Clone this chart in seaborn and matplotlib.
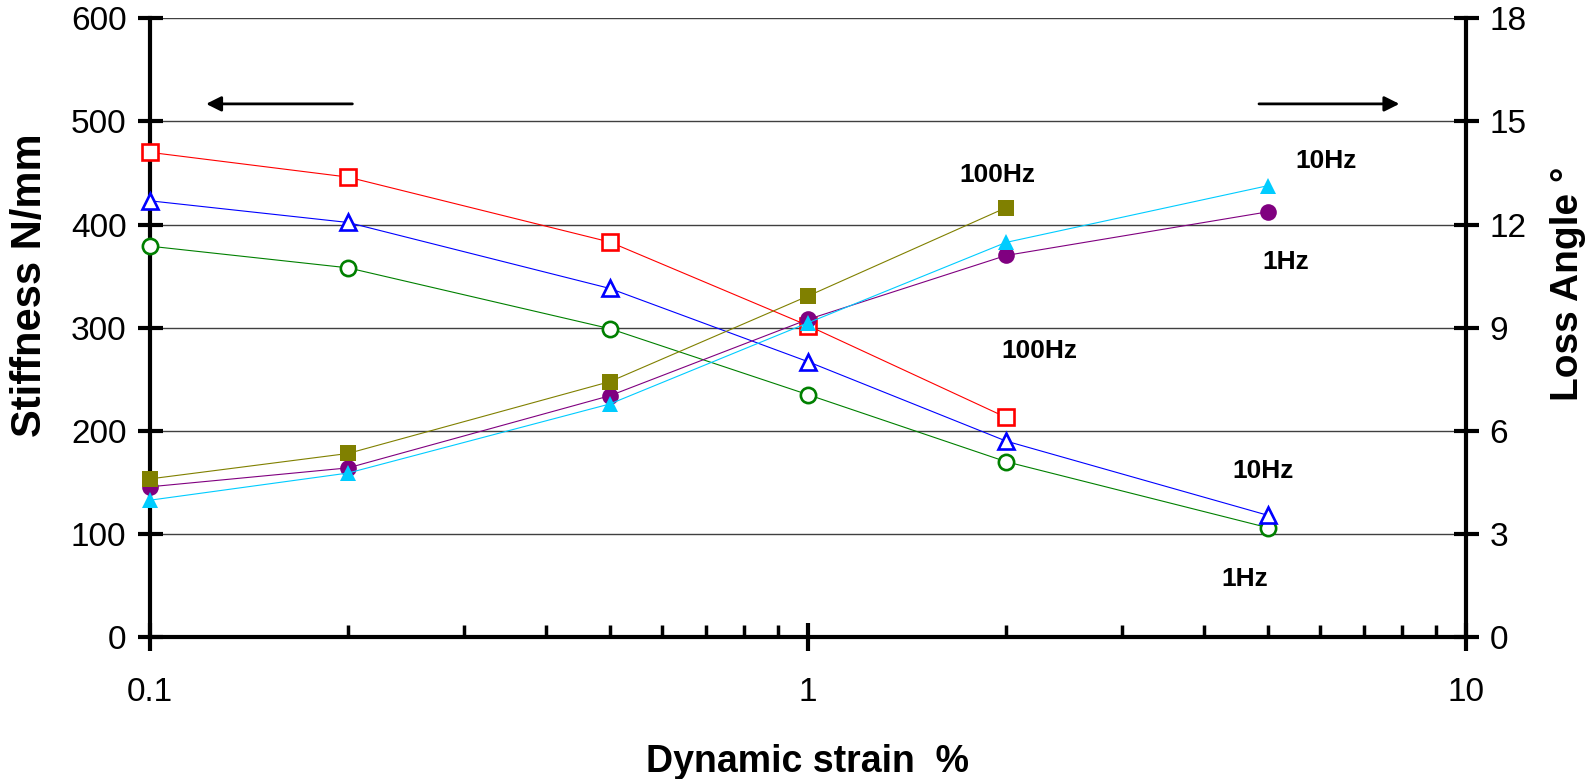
import matplotlib
matplotlib.use("Agg")
import matplotlib.pyplot as plt
import seaborn as sns
from matplotlib.ticker import FixedLocator, NullFormatter, FixedFormatter

#################
## Chart data  ##
#################

strain = [0.1, 0.2, 0.5, 1, 2, 5]

# stiffness, N/mm (left axis)
stiff_100hz = [470, 446, 383, 302, 213]
stiff_10hz = [423, 402, 338, 267, 190, 118]
stiff_1hz = [379, 358, 299, 235, 170, 106]

# loss angle, degrees (right axis)
loss_100hz = [4.60, 5.34, 7.43, 9.92, 12.49]
loss_10hz = [3.98, 4.77, 6.78, 9.14, 11.48, 13.13]
loss_1hz = [4.37, 4.92, 7.02, 9.24, 11.10, 12.37]

x_ticks = [0.1, 1, 10]
x_ticklabels = ["0.1", "1", "10"]
left_ticks = [0, 100, 200, 300, 400, 500, 600]
right_ticks = [0, 3, 6, 9, 12, 15, 18]

series_labels = ["100Hz", "10Hz", "1Hz", "100Hz", "10Hz", "1Hz"]

###############
## Plotting  ##
###############

sns.set_style("white")
plt.rcParams["font.family"] = ["Liberation Sans", "DejaVu Sans"]
plt.rcParams["text.color"] = "black"
plt.rcParams["axes.labelcolor"] = "black"
plt.rcParams["xtick.color"] = "black"
plt.rcParams["ytick.color"] = "black"

fig = plt.figure(figsize=(15.91, 7.79), dpi=100)
ax = fig.add_axes([0.0943, 0.1823, 0.8271, 0.7942])
ax2 = ax.twinx()

open_kw = dict(markerfacecolor="white", markersize=11, markeredgewidth=1.9, linewidth=0.8, clip_on=False, zorder=4)
sns.lineplot(x=strain[:len(stiff_1hz)], y=stiff_1hz, ax=ax, color="#008000", marker="o", markeredgecolor="#008000", legend=False, **open_kw)
sns.lineplot(x=strain[:len(stiff_10hz)], y=stiff_10hz, ax=ax, color="#0000FF", marker="^", markeredgecolor="#0000FF", legend=False, **open_kw)
sns.lineplot(x=strain[:len(stiff_100hz)], y=stiff_100hz, ax=ax, color="#FF0000", marker="s", markeredgecolor="#FF0000", legend=False, **open_kw)

fill_kw = dict(markersize=12, markeredgewidth=0, linewidth=0.8, clip_on=False, zorder=4)
sns.lineplot(x=strain[:len(loss_1hz)], y=loss_1hz, ax=ax2, color="#800080", marker="o", legend=False, **fill_kw)
sns.lineplot(x=strain[:len(loss_10hz)], y=loss_10hz, ax=ax2, color="#00CCFF", marker="^", legend=False, **fill_kw)
sns.lineplot(x=strain[:len(loss_100hz)], y=loss_100hz, ax=ax2, color="#808000", marker="s", legend=False, **fill_kw)

# axes and scales
ax.set_xscale("log")
ax.set_xlim(0.1, 10)
ax.set_ylim(0, 600)
ax2.set_ylim(0, 18)
ax.yaxis.set_major_locator(FixedLocator(left_ticks))
ax2.yaxis.set_major_locator(FixedLocator(right_ticks))
ax.xaxis.set_major_locator(FixedLocator(x_ticks))
ax.xaxis.set_major_formatter(FixedFormatter(x_ticklabels))
minor = [m * d for d in (0.1, 1) for m in range(2, 10)]
ax.xaxis.set_minor_locator(FixedLocator(minor))
ax.xaxis.set_minor_formatter(NullFormatter())

ax.grid(axis="y", color="#404040", linewidth=1.0)
ax.grid(axis="x", visible=False)
ax2.grid(False)
ax.set_axisbelow(True)

# one visible spine per side, so markers on the left edge sit on top of it
for a in (ax, ax2):
    a.spines["top"].set_visible(False)
    for side in ("left", "right", "bottom"):
        a.spines[side].set_linewidth(3)
        a.spines[side].set_color("black")
ax.spines["right"].set_visible(False)
ax2.spines["left"].set_visible(False)
ax2.spines["bottom"].set_visible(False)

ax.tick_params(axis="y", direction="inout", length=18, width=3, labelsize=24, pad=8, left=True, right=False)
ax2.tick_params(axis="y", direction="inout", length=18, width=3, labelsize=24, pad=8, right=True, left=False)
ax.tick_params(axis="x", which="major", direction="inout", length=20, width=3, labelsize=24, pad=19, bottom=True)
ax.tick_params(axis="x", which="minor", direction="in", length=9, width=2.5, bottom=True)

ax.set_xlabel("Dynamic strain  %", fontsize=27, fontweight="bold", labelpad=26)
ax.set_ylabel("Stiffness N/mm", fontsize=30, fontweight="bold")
ax.yaxis.set_label_coords(-0.076, 0.569)
ax2.set_ylabel("Loss Angle °", fontsize=28, fontweight="bold")
ax2.yaxis.set_label_coords(1.064, 0.571)

# series annotations
label_x = [1.94, 6.12, 5.32, 2.25, 4.91, 4.61]
label_y = [448, 462, 364, 277, 161, 56]
for txt, lx, ly in zip(series_labels, label_x, label_y):
    ax.text(lx, ly, txt, fontsize=19, fontweight="bold", ha="center", va="center")

# axis arrows
arrow_kw = dict(arrowstyle="-|>,head_length=0.9,head_width=0.45", color="black", lw=2)
ax.annotate("", xy=(0.1205, 517), xytext=(0.205, 517), arrowprops=arrow_kw)
ax.annotate("", xy=(8.0, 517), xytext=(4.8, 517), arrowprops=arrow_kw)

plt.savefig("out.png", dpi=100)
plt.close()
